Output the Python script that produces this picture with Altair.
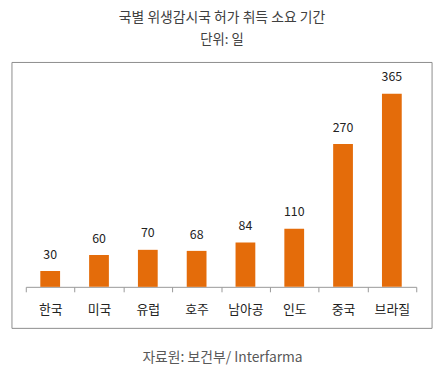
import altair as alt
import pandas as pd

countries = ["한국", "미국", "유럽", "호주", "남아공", "인도", "중국", "브라질"]
days = [30, 60, 70, 68, 84, 110, 270, 365]
title_text = "국별 위생감시국 허가 취득 소요 기간"
subtitle_text = "단위: 일"
source_text = "자료원: 보건부/ Interfarma"

df = pd.DataFrame({"country": countries, "days": days})
one = pd.DataFrame({"t": [source_text]})
FONT = "Noto Sans CJK KR"
W, H = 395, 214

x = alt.X(
    "country:N", sort=countries,
    scale=alt.Scale(paddingInner=0, paddingOuter=0),
    axis=alt.Axis(title=None, labelAngle=0, tickBand="extent", tickSize=5,
                  tickColor="#999999", domainColor="#999999", grid=False,
                  labelFont=FONT, labelFontSize=13, labelColor="#222222",
                  labelPadding=12),
)
y = alt.Y("days:Q", scale=alt.Scale(domain=[0, 400]), axis=None)

bars = alt.Chart(df).mark_bar(color="#E46C0A", width=alt.RelativeBandSize(0.405)).encode(x=x, y=y)
labels = alt.Chart(df).mark_text(font=FONT, fontSize=12.5, color="#222222",
                                 baseline="middle", dy=-16.5).encode(x=x, y=y, text="days:Q")
box = alt.Chart(one).mark_rect(fill="transparent", stroke="#8c8c8c", strokeWidth=1).encode(
    x=alt.value(-14), x2=alt.value(411), y=alt.value(-13), y2=alt.value(H + 42))
footer = alt.Chart(one).mark_text(font=FONT, fontSize=14, color="#595959",
                                  baseline="middle").encode(
    x=alt.value(199), y=alt.value(H + 72), text="t:N")

chart = alt.layer(box, bars, labels, footer).properties(
    width=W, height=H,
    padding={"left": 3, "top": 1, "right": 5, "bottom": 0},
    title=alt.TitleParams(text=title_text, subtitle=subtitle_text, anchor="middle",
                          frame="bounds", font=FONT, fontSize=14, fontWeight="normal",
                          color="#404040", subtitleFont=FONT, subtitleFontSize=13.5,
                          subtitleColor="#404040", subtitlePadding=8, offset=16),
).configure_view(strokeWidth=0)

chart.save("out.html", embed_options={"renderer": "svg", "actions": False})
